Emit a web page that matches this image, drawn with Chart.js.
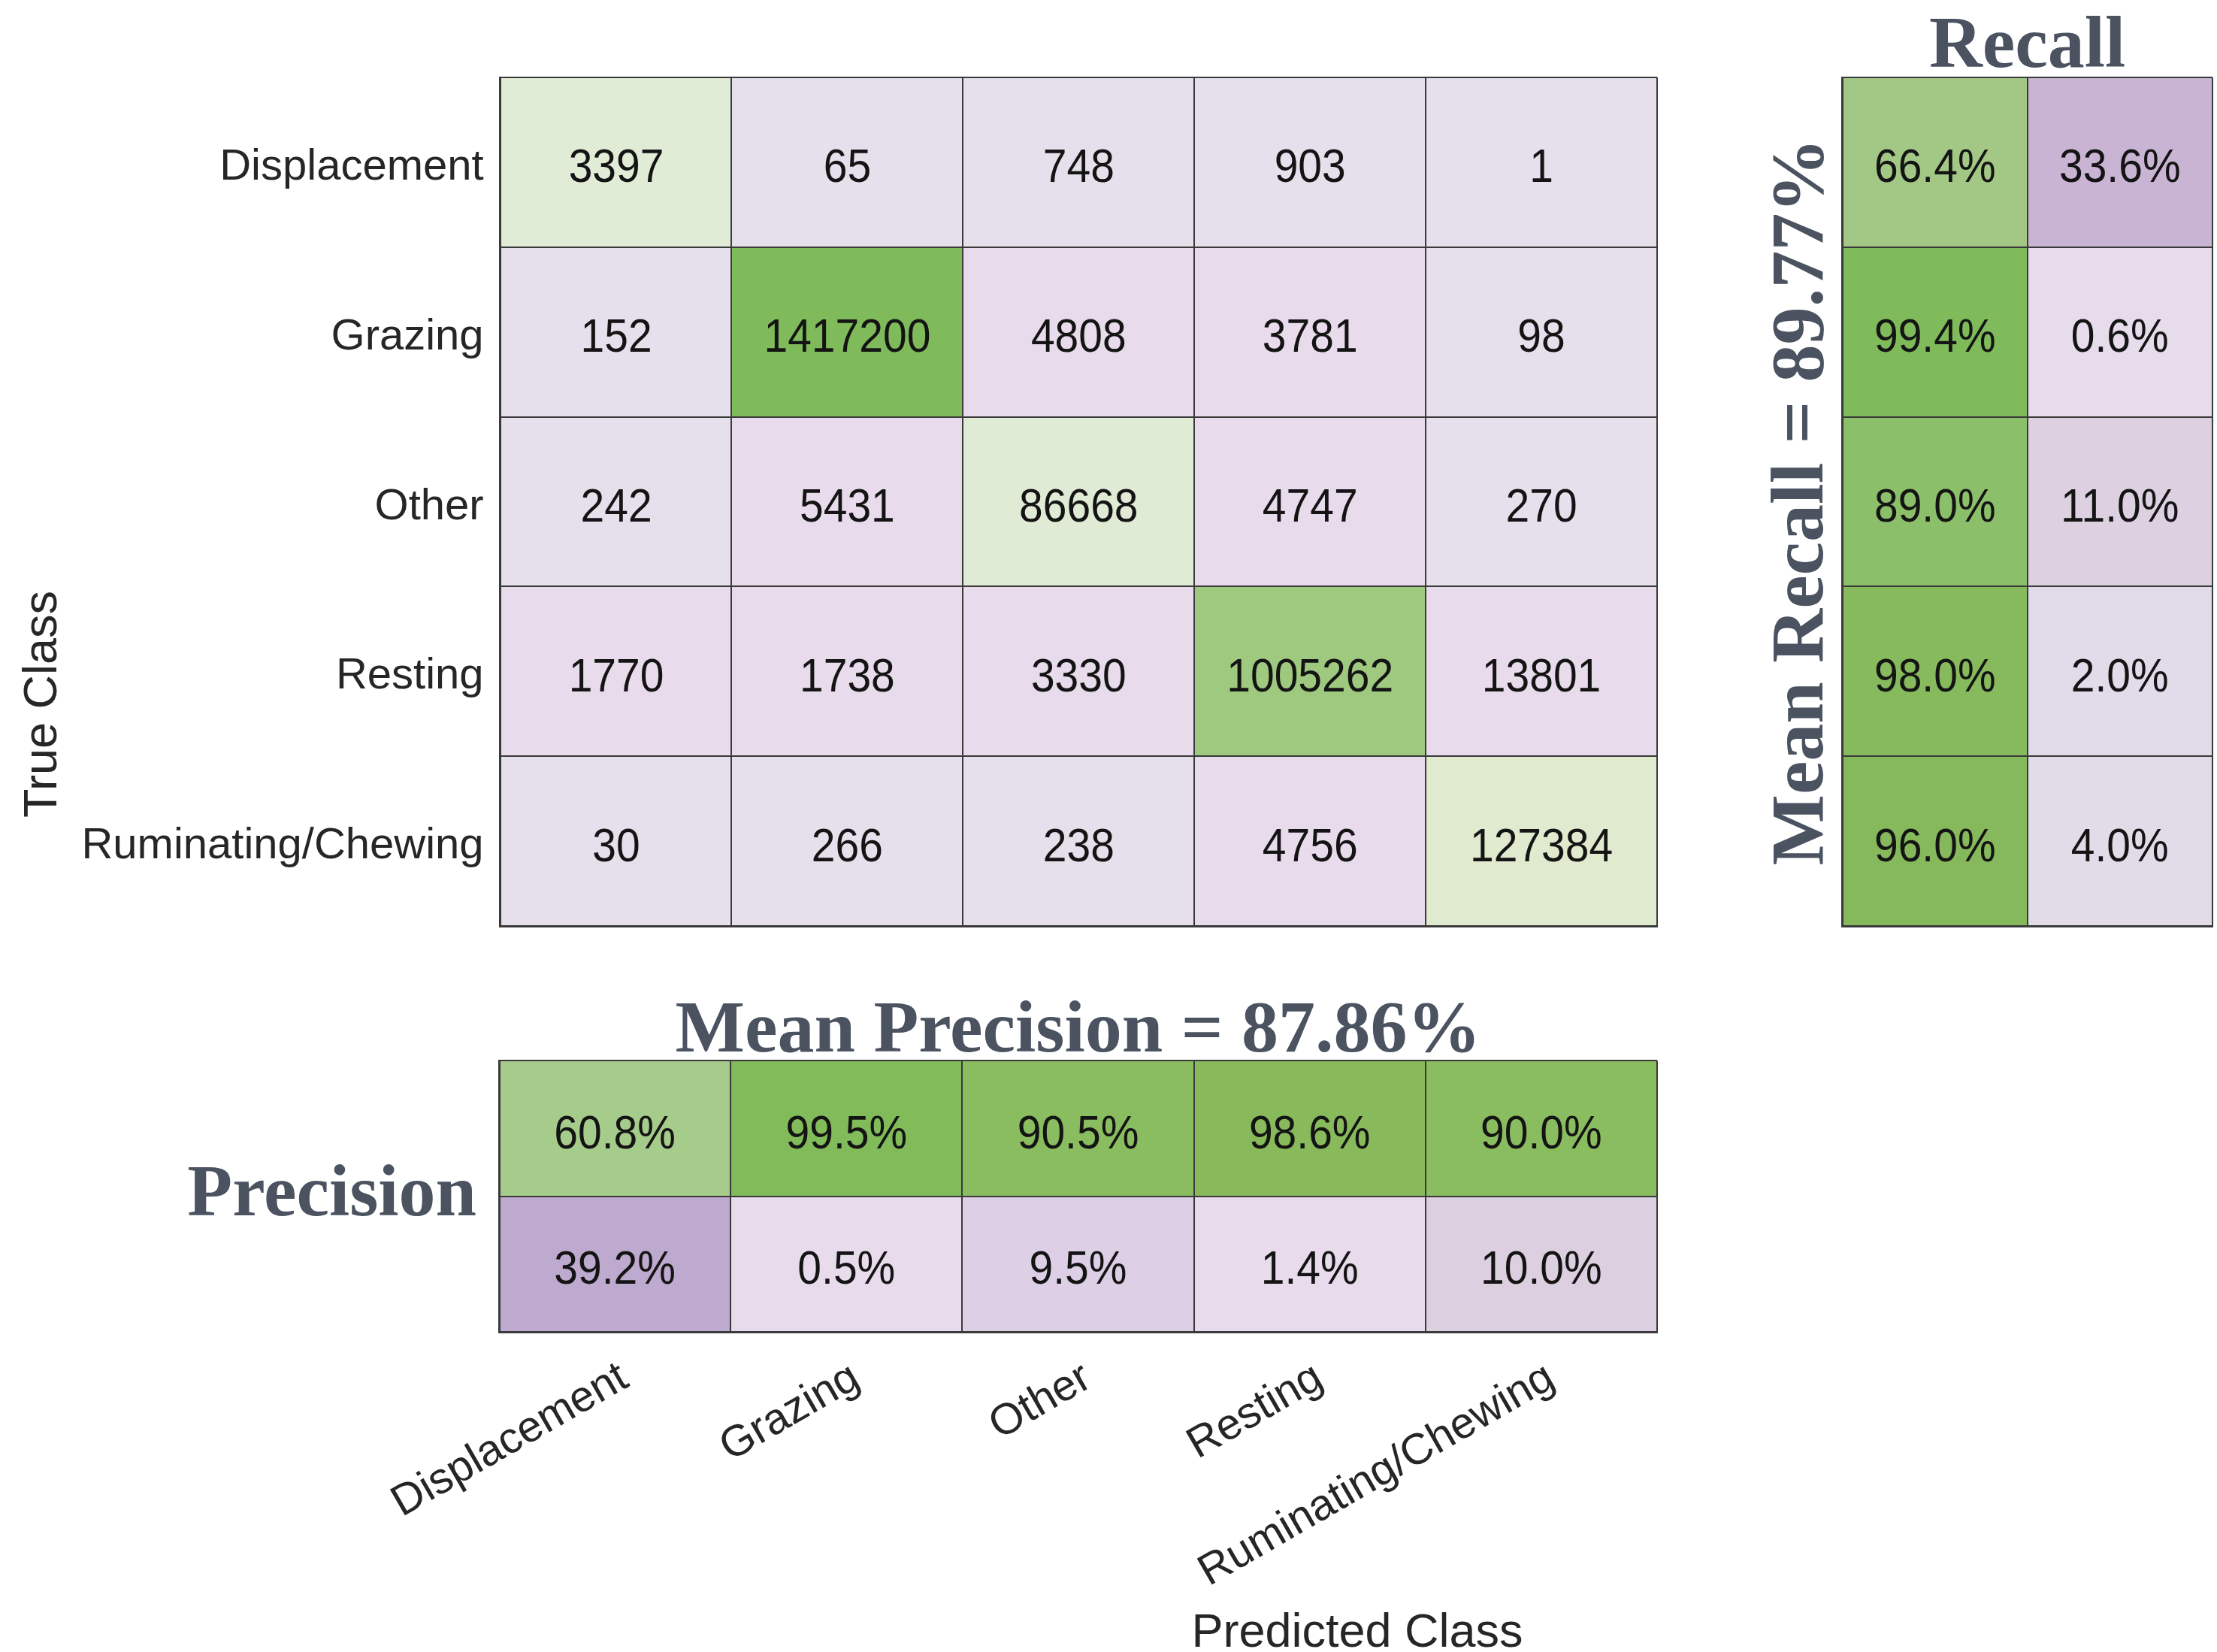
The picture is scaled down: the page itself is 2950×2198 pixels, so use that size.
<!DOCTYPE html>
<html>
<head>
<meta charset="utf-8">
<title>Behaviour classification confusion matrix</title>
<script src="https://cdn.jsdelivr.net/npm/chart.js@4.4.1/dist/chart.umd.min.js"></script>
<style>
  html, body { margin: 0; padding: 0; background: #ffffff; width: 2950px; height: 2198px; overflow: hidden; }
  canvas { position: absolute; }
  #countsCanvas { left: 0; top: 0; }
  #recallCanvas { left: 2340px; top: 0; }
  #precisionCanvas { left: 0; top: 1300px; }
</style>
</head>
<body>
<canvas id="countsCanvas" width="2215" height="1771"></canvas>
<canvas id="recallCanvas" width="610" height="1242"></canvas>
<canvas id="precisionCanvas" width="3612" height="898"></canvas>
<script>
// ---- data -------------------------------------------------------------
const classes = ['Displacement', 'Grazing', 'Other', 'Resting', 'Ruminating/Chewing'];

// counts per true class (rows), one entry per predicted class (columns)
const rowDisplacement = [3397, 65, 748, 903, 1];
const rowGrazing      = [152, 1417200, 4808, 3781, 98];
const rowOther        = [242, 5431, 86668, 4747, 270];
const rowResting      = [1770, 1738, 3330, 1005262, 13801];
const rowRuminating   = [30, 266, 238, 4756, 127384];

// per-class recall (correct share of each true class) and its complement
const recallPct = [66.4, 99.4, 89.0, 98.0, 96.0];
const missPct   = [33.6, 0.6, 11.0, 2.0, 4.0];

// per-class precision (correct share of each predicted class) and its complement
const precisionPct      = [60.8, 99.5, 90.5, 98.6, 90.0];
const falseDiscoveryPct = [39.2, 0.5, 9.5, 1.4, 10.0];

const meanRecall = 89.77;
const meanPrecision = 87.86;

// ---- cell fills -------------------------------------------------------
const countFill = [
  ['#e1ecd7', '#e5e0ec', '#e5e0ec', '#e5e0ec', '#e5e0ec'],
  ['#e5e0ec', '#7fbb5a', '#e8dbec', '#e8dbec', '#e5e0ec'],
  ['#e5e0ec', '#e8dbec', '#e0ebd5', '#e8dbec', '#e5e0ec'],
  ['#e8dbec', '#e8dbec', '#e8dbec', '#9ec97e', '#e8dbec'],
  ['#e5e0ec', '#e5e0ec', '#e5e0ec', '#e8dbec', '#dfeacf']
];
const recallFill    = ['#a3c886', '#7fbb5a', '#8bbf69', '#86ba5c', '#86b85c'];
const missFill      = ['#c9b5d3', '#e6dcec', '#dcd0e1', '#e2dbea', '#e1dce8'];
const precisionFill = ['#a6cc8c', '#81bb5a', '#8abd5f', '#88b95a', '#8abd5f'];
const falseDiscFill = ['#bfaacf', '#e7dbec', '#dccfe6', '#e7dbec', '#dccfe0'];

// ---- shared styling ---------------------------------------------------
const SANS = "'Liberation Sans', Arial, Helvetica, sans-serif";
const SERIF = "'Liberation Serif', 'Times New Roman', Times, serif";
const HEADING = '#4b5361';
const INK = '#262626';

Chart.defaults.font.family = SANS;

const gridStyle = { display: true, drawTicks: false, color: '#3a3a3a', lineWidth: 2, z: 1 };
const borderStyle = { display: true, color: '#3a3a3a', width: 3, z: 1 };
const headingFont = (lineHeight, size = 98) => ({ family: SERIF, size, weight: 'bold', lineHeight });
const fmtPct = (v) => v.toFixed(1) + '%';

const barDefaults = { grouped: false, barPercentage: 1, categoryPercentage: 1, borderWidth: 0 };

// writes each cell's text at the centre of its bar (slightly tall glyphs)
const CELL_FONT = 57;
const CELL_STRETCH = 1.1;
const cellText = {
  id: 'cellText',
  afterDraw(chart) {
    const ctx = chart.ctx;
    chart.data.datasets.forEach((ds, di) => {
      chart.getDatasetMeta(di).data.forEach((bar, i) => {
        const p = bar.getCenterPoint();
        ctx.save();
        ctx.font = CELL_FONT + 'px ' + SANS;
        ctx.fillStyle = '#141414';
        ctx.textAlign = 'center';
        ctx.textBaseline = 'alphabetic';
        ctx.translate(p.x, p.y + 4);
        ctx.scale(1, CELL_STRETCH);
        ctx.fillText(ds.data[i].text, 0, 0.358 * CELL_FONT);
        ctx.restore();
      });
    });
  }
};

const baseOptions = {
  responsive: false,
  animation: false,
  devicePixelRatio: 1,
  events: []
};

// ---- main count matrix ------------------------------------------------
const countRows = [rowDisplacement, rowGrazing, rowOther, rowResting, rowRuminating];
const countDatasets = classes.map((pred, c) => Object.assign({
  label: pred,
  data: classes.map((truth, r) => ({ x: [c, c + 1], y: truth, text: String(countRows[r][c]) })),
  backgroundColor: countRows.map((_, r) => countFill[r][c])
}, barDefaults));

new Chart(document.getElementById('countsCanvas'), {
  type: 'bar',
  data: { labels: classes, datasets: countDatasets },
  options: Object.assign({}, baseOptions, {
    indexAxis: 'y',
    layout: { padding: { top: 103, right: 10, bottom: 0, left: 0 } },
    plugins: {
      legend: { display: false },
      tooltip: { enabled: false },
      title: {
        display: true, position: 'left', text: 'True Class', color: INK,
        font: { family: SANS, size: 63, weight: 'normal', lineHeight: 1.2 },
        padding: { top: 20, bottom: 0 }
      }
    },
    scales: {
      y: {
        type: 'category', offset: true,
        grid: Object.assign({}, gridStyle, { offset: true }),
        border: borderStyle,
        ticks: { font: { size: 58 }, color: INK, padding: 22, labelOffset: 7 },
        afterFit: (s) => { s.width = 570; }
      },
      x: {
        type: 'linear', min: 0, max: 5,
        grid: gridStyle, border: borderStyle,
        ticks: { display: false, stepSize: 1 },
        afterFit: (s) => { s.height = 539; }
      }
    }
  }),
  plugins: [cellText]
});

// ---- recall panel -----------------------------------------------------
const recallDatasets = [
  Object.assign({
    label: 'Recall',
    data: classes.map((cls, r) => ({ x: [0, 1], y: cls, text: fmtPct(recallPct[r]) })),
    backgroundColor: recallFill
  }, barDefaults),
  Object.assign({
    label: 'Miss rate',
    data: classes.map((cls, r) => ({ x: [1, 2], y: cls, text: fmtPct(missPct[r]) })),
    backgroundColor: missFill
  }, barDefaults)
];

new Chart(document.getElementById('recallCanvas'), {
  type: 'bar',
  data: { labels: classes, datasets: recallDatasets },
  options: Object.assign({}, baseOptions, {
    indexAxis: 'y',
    layout: { padding: { top: 0, right: 6, bottom: 10, left: 0 } },
    plugins: {
      legend: { display: false },
      tooltip: { enabled: false },
      title: {
        display: true, position: 'top', fullSize: false, text: 'Recall', color: HEADING,
        font: headingFont(0.74), padding: { top: 27, bottom: 3.5 }
      }
    },
    scales: {
      y: {
        type: 'category', offset: true,
        grid: Object.assign({}, gridStyle, { offset: true }),
        border: borderStyle,
        ticks: { display: false },
        title: {
          display: true, text: 'Mean Recall = ' + meanRecall.toFixed(2) + '%', color: HEADING,
          font: headingFont(1.0, 100), padding: { top: 9, bottom: 2 }
        },
        afterFit: (s) => { s.width = 111; }
      },
      x: {
        type: 'linear', min: 0, max: 2,
        grid: gridStyle, border: borderStyle,
        ticks: { display: false, stepSize: 1 },
        afterFit: (s) => { s.height = 0; }
      }
    }
  }),
  plugins: [cellText]
});

// ---- precision panel --------------------------------------------------
const precisionDatasets = [
  Object.assign({
    label: 'Precision', yAxisID: 'y',
    data: classes.map((cls, c) => ({ x: cls, y: [0, 1], text: fmtPct(precisionPct[c]) })),
    backgroundColor: precisionFill
  }, barDefaults),
  Object.assign({
    label: 'False discovery rate', yAxisID: 'y',
    data: classes.map((cls, c) => ({ x: cls, y: [1, 2], text: fmtPct(falseDiscoveryPct[c]) })),
    backgroundColor: falseDiscFill
  }, barDefaults)
];

new Chart(document.getElementById('precisionCanvas'), {
  type: 'bar',
  data: { labels: classes, datasets: precisionDatasets },
  options: Object.assign({}, baseOptions, {
    layout: { padding: 0 },
    plugins: {
      legend: { display: false },
      tooltip: { enabled: false },
      title: {
        display: true, position: 'top', fullSize: false,
        text: 'Mean Precision = ' + meanPrecision.toFixed(2) + '%', color: HEADING,
        font: headingFont(0.757), padding: { top: 37, bottom: 0 }
      },
      subtitle: {
        display: true, position: 'bottom', fullSize: true, text: 'Predicted Class', color: INK,
        font: { family: SANS, size: 63, weight: 'normal', lineHeight: 0.76 }, padding: 0
      }
    },
    scales: {
      x: {
        type: 'category', offset: true,
        grid: Object.assign({}, gridStyle, { offset: true }),
        border: borderStyle,
        ticks: { font: { size: 58 }, color: INK, minRotation: 30, maxRotation: 30, autoSkip: false, padding: 27, labelOffset: 13 },
        afterFit: (s) => { s.height = 378; }
      },
      y: {
        type: 'linear', min: 0, max: 2, reverse: true,
        grid: gridStyle, border: borderStyle,
        ticks: {
          stepSize: 1, padding: 30, color: HEADING, font: headingFont(1.2),
          callback: (v) => (v === 1 ? 'Precision' : '')
        },
        afterFit: (s) => { s.width = 664; }
      },
      // empty right-hand band keeps the panel aligned with the count matrix
      yPad: {
        type: 'linear', position: 'right', display: true,
        grid: { display: false }, border: { display: false },
        ticks: { display: false },
        afterFit: (s) => { s.width = 1407; }
      }
    }
  }),
  plugins: [cellText]
});
</script>
</body>
</html>
